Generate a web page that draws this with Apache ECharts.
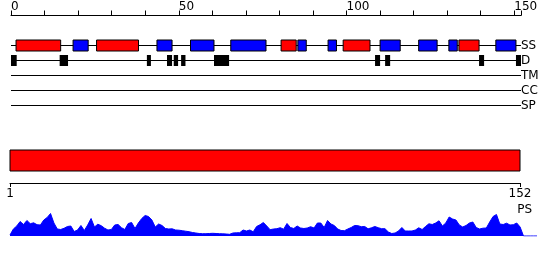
<!DOCTYPE html>
<html>
<head>
<meta charset="utf-8">
<script src="https://cdn.jsdelivr.net/npm/echarts@6/dist/echarts.min.js"></script>
<style>html,body{margin:0;padding:0;background:#fff}#c{width:550px;height:260px}</style>
</head>
<body>
<div id="c"></div>
<script>
// ---- data ----
var seqLength = 152;
var trackNames = ['SS', 'D', 'TM', 'CC', 'SP'];
var topTickLabels = [0, 50, 100, 150];
var bottomTickLabels = [1, 152];
// secondary structure: [start, end, type] (H = helix, E = strand)
var ssStart = [1.5, 18.5, 25.5, 43.5, 53.5, 65.5, 80.5, 85.5, 94.5, 99, 110, 121.5, 130.5, 133.5, 144.5];
var ssEnd   = [14.8, 23, 38, 48, 60.5, 76, 85, 88, 97, 107, 116, 127, 133, 139.5, 150.5];
var ssType  = ['H', 'E', 'H', 'E', 'E', 'E', 'H', 'E', 'E', 'H', 'E', 'E', 'E', 'H', 'E'];
// disorder regions
var dStart = [0, 14.5, 40.5, 46.5, 48.5, 50.7, 60.5, 108.5, 111.5, 139.5, 150.5];
var dEnd   = [1.7, 17, 41.7, 48, 49.8, 52, 65, 110, 113, 141, 152];
// domain
var domainStart = [1];
var domainEnd = [152];
// PS profile per residue (1..152)
var psValues = [
  1, 7, 10, 14.5, 11.5, 15.5, 12.3, 13.2, 11.3, 11,
  16, 18.5, 22.5, 13, 7, 6.5, 7.7, 9.5, 10, 4.5,
  6, 10.5, 5.5, 11, 17.5, 9, 11.8, 10.3, 7.8, 6,
  6.5, 11, 11.5, 8.3, 6.5, 12.5, 13.5, 7.5, 13, 17.5,
  20.5, 19.5, 16, 9, 12, 10.5, 7.5, 7, 7.2, 6,
  5.8, 5.3, 4.8, 4.3, 3.5, 3, 2.5, 2.3, 2.3, 2.5,
  2.7, 2.5, 2.3, 2.2, 2, 1.7, 3, 3.2, 3.3, 6,
  5, 6, 4.2, 9.5, 11.2, 13.5, 10, 6.3, 7, 7.3,
  8.3, 6.8, 12.5, 8.5, 7.5, 10, 8, 7.5, 8, 9.3,
  8, 13, 13, 8.5, 15.5, 12, 10.5, 7, 5.5, 5.3,
  7, 8.5, 10.5, 10.3, 9.3, 9.5, 7.2, 8.2, 9.5, 8.3,
  7.3, 7.3, 4, 2.5, 3, 5, 8.5, 5, 5, 5,
  6, 8.2, 6.5, 9.5, 12.2, 11.5, 13, 15.2, 10, 13,
  19, 17, 16, 11, 9, 10.5, 13, 14, 8.5, 7,
  7.8, 8, 14, 19.5, 21.5, 12, 11.5, 12.8, 11, 11.3,
  13, 9
];
var psTail = [0, 0, 0, 0, 0];

// ---- chart ----
var FONT = 'DejaVu Sans';
var chart = echarts.init(document.getElementById('c'), null, {renderer: 'canvas'});

var ssData = ssStart.map(function (s, i) { return [s, ssEnd[i], ssType[i] === 'H' ? 0 : 1]; });
var dData = dStart.map(function (s, i) { return [s, dEnd[i]]; });
var domData = domainStart.map(function (s, i) { return [s, domainEnd[i]]; });
var psData = psValues.map(function (v, i) { return [i + 1, v]; })
  .concat(psTail.map(function (v, i) { return [seqLength + 1 + i, v]; }));

function rowOf(name) { return trackNames.indexOf(name) + 2; }

var trackLineSeries = trackNames.map(function (n) {
  return {
    type: 'line', xAxisIndex: 0, yAxisIndex: 0, silent: true, symbol: 'none',
    lineStyle: {color: '#000', width: 1}, z: 1,
    data: [[0, rowOf(n)], [seqLength, rowOf(n)]]
  };
});

function boxRender(row, h, colorFn, stroke) {
  return function (params, api) {
    var p1 = api.coord([api.value(0), row]);
    var p2 = api.coord([api.value(1), row]);
    return {
      type: 'rect',
      shape: {x: p1[0], y: p1[1] - h / 2, width: p2[0] - p1[0], height: h},
      style: {fill: colorFn(api), stroke: stroke ? '#000' : null, lineWidth: stroke ? 1 : 0}
    };
  };
}

var option = {
  animation: false,
  backgroundColor: '#fff',
  textStyle: {fontFamily: FONT},
  grid: [
    {left: 11, right: 29, top: 15.5, height: 105},
    {left: 10, right: 30, top: 150, height: 33},
    {left: 10, right: 13, top: 206, height: 30}
  ],
  xAxis: [
    {
      gridIndex: 0, type: 'value', position: 'top', min: 0, max: seqLength, interval: 10,
      axisLine: {show: true, lineStyle: {color: '#000', width: 1}},
      axisTick: {show: true, length: 5, lineStyle: {color: '#000'}},
      axisLabel: {show: true, customValues: topTickLabels, align: 'left', margin: 3,
        color: '#000', fontSize: 12, fontFamily: FONT},
      splitLine: {show: false}
    },
    {
      gridIndex: 1, type: 'value', position: 'bottom', min: 1, max: seqLength,
      axisLine: {show: true, lineStyle: {color: '#000', width: 1}},
      axisTick: {show: true, length: 4, customValues: bottomTickLabels, lineStyle: {color: '#000'}},
      axisLabel: {show: true, customValues: bottomTickLabels, margin: 5,
        color: '#000', fontSize: 12, fontFamily: FONT},
      splitLine: {show: false}
    },
    {
      gridIndex: 2, type: 'value', min: 1, max: seqLength + psTail.length, show: false
    }
  ],
  yAxis: [
    {
      gridIndex: 0, type: 'value', min: 0, max: 7, inverse: true, position: 'right',
      axisLine: {show: false}, axisTick: {show: false}, splitLine: {show: false},
      axisLabel: {show: true, margin: 0, customValues: trackNames.map(rowOf),
        formatter: function (v) { return trackNames[v - 2] || ''; },
        color: '#000', fontSize: 12, fontFamily: FONT}
    },
    {
      gridIndex: 1, type: 'value', min: 0, max: 1, show: false
    },
    {
      gridIndex: 2, type: 'value', min: 0, max: 30, position: 'right',
      axisLine: {show: false}, axisTick: {show: false}, splitLine: {show: false},
      axisLabel: {show: false},
      name: 'PS', nameLocation: 'end', nameGap: -4,
      nameTextStyle: {color: '#000', fontSize: 12, fontFamily: FONT, align: 'right',
        verticalAlign: 'middle', padding: [0, 5, 0, 0]}
    }
  ],
  series: trackLineSeries.concat([
    {
      type: 'custom', xAxisIndex: 0, yAxisIndex: 0, z: 3, silent: true,
      renderItem: boxRender(rowOf('SS'), 11, function (api) {
        return api.value(2) === 0 ? '#ff0000' : '#0000ff';
      }, true),
      encode: {x: [0, 1]},
      data: ssData
    },
    {
      type: 'custom', xAxisIndex: 0, yAxisIndex: 0, z: 3, silent: true,
      renderItem: boxRender(rowOf('D'), 11, function () { return '#000'; }, false),
      encode: {x: [0, 1]},
      data: dData
    },
    {
      type: 'custom', xAxisIndex: 1, yAxisIndex: 1, z: 3, silent: true,
      renderItem: function (params, api) {
        var p1 = api.coord([api.value(0), 1]);
        var p2 = api.coord([api.value(1), 1]);
        return {
          type: 'rect',
          shape: {x: p1[0], y: p1[1], width: p2[0] - p1[0], height: 21},
          style: {fill: '#ff0000', stroke: '#000', lineWidth: 1}
        };
      },
      encode: {x: [0, 1]},
      data: domData
    },
    {
      type: 'line', xAxisIndex: 2, yAxisIndex: 2, silent: true, symbol: 'none',
      lineStyle: {color: '#0000ff', width: 1},
      areaStyle: {color: '#0000ff', opacity: 1},
      data: psData
    }
  ])
};
chart.setOption(option);
</script>
</body>
</html>
